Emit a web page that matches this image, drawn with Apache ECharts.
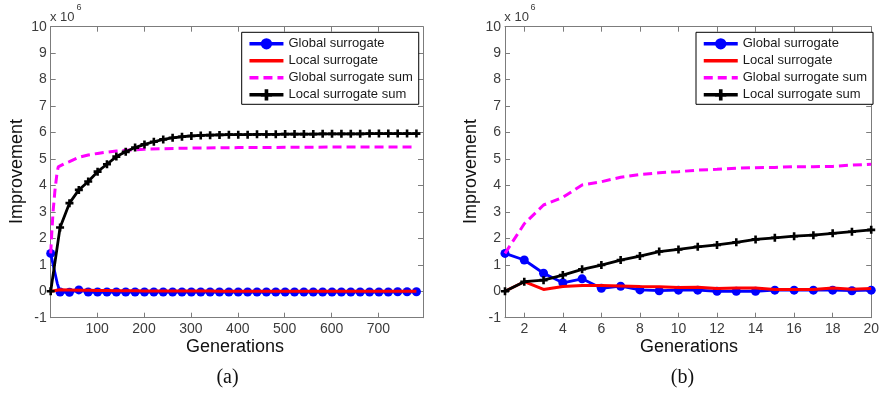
<!DOCTYPE html>
<html>
<head>
<meta charset="utf-8">
<script src="https://cdn.jsdelivr.net/npm/echarts@6/dist/echarts.min.js"></script>
<style>
  html, body { margin: 0; padding: 0; background: #fff; }
  #chart { width: 882px; height: 396px; }
</style>
</head>
<body>
<div id="chart"></div>
<script>
// ---- Panel (a): long run, values in units of 1e6 ----
const markGensA = [1, 21, 41, 61, 81, 101, 121, 141, 161, 181,
                   201, 221, 241, 261, 281, 301, 321, 341, 361, 381,
                   401, 421, 441, 461, 481, 501, 521, 541, 561, 581,
                   601, 621, 641, 661, 681, 701, 721, 741, 761, 781];

const blueGensA = [1, 5, 10, 15].concat(markGensA.slice(1));
const globalA = [1.43, 1.10, 0.70, 0.30,
                 -0.03, -0.04, 0.05, -0.03, -0.03, -0.03, -0.03, -0.03, -0.03,
                 -0.03, -0.03, -0.03, -0.03, -0.03, -0.03, -0.03, -0.03, -0.03, -0.03,
                 -0.03, -0.03, -0.03, -0.03, -0.03, -0.03, -0.03, -0.03, -0.03, -0.03,
                 -0.03, -0.03, -0.03, -0.03, -0.03, -0.03, -0.03, -0.02, -0.02, -0.02];

const localA = [0.00, 0.06, 0.05, 0.04, 0.04, 0.03, 0.03, 0.02, 0.02, 0.02,
                0.01, 0.01, 0.01, 0.01, 0.01, 0.01, 0.01, 0.01, 0.00, 0.00,
                0.00, 0.00, 0.00, 0.00, 0.00, 0.00, 0.00, 0.00, 0.00, 0.00,
                0.00, 0.00, 0.00, 0.00, 0.00, 0.00, 0.00, 0.00, 0.00, 0.00];

const sumGensA = [1, 3, 6, 10, 14, 17, 21, 31, 41, 61, 81, 101, 121, 141, 161, 181,
                  201, 241, 301, 401, 501, 601, 701, 781];
const globalSumA = [1.43, 2.10, 3.00, 3.80, 4.40, 4.70, 4.76, 4.83, 4.90, 5.06, 5.15, 5.21,
                    5.26, 5.30, 5.33, 5.35, 5.37, 5.39, 5.41, 5.43, 5.44, 5.45, 5.45, 5.45];

const localSumA = [0.00, 2.41, 3.33, 3.83, 4.15, 4.52, 4.80, 5.09, 5.27, 5.43,
                   5.55, 5.65, 5.74, 5.80, 5.84, 5.87, 5.89, 5.90, 5.91, 5.92,
                   5.92, 5.92, 5.93, 5.93, 5.93, 5.94, 5.94, 5.94, 5.94, 5.95,
                   5.95, 5.95, 5.95, 5.95, 5.96, 5.96, 5.96, 5.96, 5.96, 5.96];

const xTicksA = [100, 200, 300, 400, 500, 600, 700];

// ---- Panel (b): first 20 generations ----
const gensB = [1, 2, 3, 4, 5, 6, 7, 8, 9, 10, 11, 12, 13, 14, 15, 16, 17, 18, 19, 20];
const globalB = [1.43, 1.18, 0.68, 0.32, 0.47, 0.11, 0.19, 0.05, 0.02, 0.04,
                 0.04, 0.00, 0.00, 0.00, 0.04, 0.04, 0.04, 0.04, 0.02, 0.04];
const localB = [0.00, 0.36, 0.07, 0.18, 0.22, 0.22, 0.20, 0.18, 0.17, 0.14,
                0.15, 0.10, 0.12, 0.12, 0.07, 0.07, 0.07, 0.12, 0.08, 0.10];
const globalSumB = [1.43, 2.55, 3.26, 3.55, 4.02, 4.14, 4.31, 4.41, 4.48, 4.52,
                    4.58, 4.61, 4.65, 4.67, 4.68, 4.71, 4.71, 4.72, 4.77, 4.80];
const localSumB = [0.00, 0.36, 0.42, 0.61, 0.83, 0.99, 1.18, 1.33, 1.50, 1.58,
                   1.68, 1.75, 1.85, 1.96, 2.02, 2.08, 2.12, 2.19, 2.25, 2.32];
const xTicksB = [2, 4, 6, 8, 10, 12, 14, 16, 18, 20];

const names = ['Global surrogate', 'Local surrogate', 'Global surrogate sum', 'Local surrogate sum'];

const FONT = "'Liberation Sans', Arial, sans-serif";
const AXIS_GRAY = '#7c7c7c';
const LABEL_GRAY = '#3c3c3c';
const PLUS = 'path://M-1.3,-4 L1.3,-4 L1.3,-1.3 L4,-1.3 L4,1.3 L1.3,1.3 L1.3,4 L-1.3,4 L-1.3,1.3 L-4,1.3 L-4,-1.3 L-1.3,-1.3 Z';

// pair x values with y values; points off the marker stride get no symbol
function pairs(xs, ys, stride) {
  return xs.map((x, i) => {
    const item = { value: [x, ys[i]] };
    if (stride && (x - 1) % stride !== 0) item.symbol = 'none';
    return item;
  });
}

function xAxisPair(gridIndex, min, max, ticks) {
  const common = {
    type: 'value', gridIndex, min, max,
    axisLine: { show: true, onZero: false, lineStyle: { color: AXIS_GRAY, width: 1 } },
    splitLine: { show: false }
  };
  return [
    Object.assign({}, common, {
      position: 'bottom',
      axisTick: { show: true, inside: true, length: 5, customValues: ticks, lineStyle: { color: AXIS_GRAY } },
      axisLabel: { customValues: ticks, color: LABEL_GRAY, fontSize: 14, fontFamily: FONT, margin: 4 }
    }),
    Object.assign({}, common, {
      position: 'top',
      axisTick: { show: true, inside: true, length: 5, customValues: ticks, lineStyle: { color: AXIS_GRAY } },
      axisLabel: { show: false }
    })
  ];
}

function yAxisPair(gridIndex) {
  const common = {
    type: 'value', gridIndex, min: -1, max: 10, interval: 1,
    axisLine: { show: true, onZero: false, lineStyle: { color: AXIS_GRAY, width: 1 } },
    splitLine: { show: false },
    axisTick: { show: true, inside: true, length: 5, lineStyle: { color: AXIS_GRAY } }
  };
  return [
    Object.assign({}, common, {
      position: 'left',
      axisLabel: { color: LABEL_GRAY, fontSize: 14, fontFamily: FONT, margin: 4 }
    }),
    Object.assign({}, common, { position: 'right', axisLabel: { show: false } })
  ];
}

function seriesSet(xIdx, yIdx, d) {
  return [
    {
      name: names[0], type: 'line', xAxisIndex: xIdx, yAxisIndex: yIdx,
      data: d.global, symbol: 'circle', symbolSize: 9, showAllSymbol: true,
      lineStyle: { color: '#0000ff', width: 2.8 },
      itemStyle: { color: '#0000ff' },
      z: 2, animation: false
    },
    {
      name: names[1], type: 'line', xAxisIndex: xIdx, yAxisIndex: yIdx,
      data: d.local, symbol: 'none',
      lineStyle: { color: '#ff0000', width: 3 }, itemStyle: { color: '#ff0000' },
      z: 3, animation: false
    },
    {
      name: names[2], type: 'line', xAxisIndex: xIdx, yAxisIndex: yIdx,
      data: d.gsum, symbol: 'none',
      lineStyle: { color: '#ff00ff', width: 3, type: [9, 5] }, itemStyle: { color: '#ff00ff' },
      z: 4, animation: false
    },
    {
      name: names[3], type: 'line', xAxisIndex: xIdx, yAxisIndex: yIdx,
      data: d.lsum, symbol: PLUS, symbolSize: 8, showAllSymbol: true,
      lineStyle: { color: '#000000', width: 2.8 }, itemStyle: { color: '#000000' },
      z: 5, animation: false
    }
  ];
}

function legendAt(left, top) {
  return {
    left, top, orient: 'vertical',
    data: [
      { name: names[0] },
      { name: names[1], itemStyle: { opacity: 0 } },
      { name: names[2], itemStyle: { opacity: 0 } },
      { name: names[3] }
    ],
    itemWidth: 34, itemHeight: 14, itemGap: 4,
    padding: [5, 6, 3, 6],
    lineStyle: { width: 3.5 },
    backgroundColor: '#ffffff', borderColor: '#000000', borderWidth: 1, borderRadius: 0,
    selectedMode: false,
    textStyle: { color: '#1a1a1a', fontSize: 13, fontFamily: FONT }
  };
}

function label(x, y, text, size, extra) {
  return Object.assign({
    type: 'text', x, y, z: 100,
    style: { text, fontSize: size, fontFamily: FONT, fill: '#111', align: 'center', verticalAlign: 'middle' }
  }, extra || {});
}

function small(x, y, text, size) {
  return { type: 'text', x, y, style: { text, fontSize: size, fontFamily: FONT, fill: LABEL_GRAY, align: 'left', verticalAlign: 'middle' } };
}

function serif(x, y, text) {
  return { type: 'text', x, y, style: { text, fontSize: 20, fontFamily: "'Liberation Serif', 'DejaVu Serif', serif", fill: '#111', align: 'center', verticalAlign: 'middle' } };
}

const chart = echarts.init(document.getElementById('chart'), null, { renderer: 'canvas' });
chart.setOption({
  backgroundColor: '#ffffff',
  animation: false,
  grid: [
    { left: 50.7, right: 459, top: 26.7, bottom: 78.3 },
    { left: 505, right: 5.3, top: 26.7, bottom: 78.3 }
  ],
  xAxis: xAxisPair(0, 1, 795, xTicksA).concat(xAxisPair(1, 1, 20, xTicksB)),
  yAxis: yAxisPair(0).concat(yAxisPair(1)),
  legend: [legendAt(241.7, 32.3), legendAt(696, 32.3)],
  series: seriesSet(0, 0, {
    global: pairs(blueGensA, globalA, 20),
    local: pairs(markGensA, localA),
    gsum: pairs(sumGensA, globalSumA),
    lsum: pairs(markGensA, localSumA, 20)
  }).concat(seriesSet(2, 2, {
    global: pairs(gensB, globalB),
    local: pairs(gensB, localB),
    gsum: pairs(gensB, globalSumB),
    lsum: pairs(gensB, localSumB)
  })),
  graphic: [
    label(17, 171.5, 'Improvement', 18, { rotation: Math.PI / 2 }),
    label(471.5, 171.5, 'Improvement', 18, { rotation: Math.PI / 2 }),
    label(235, 347, 'Generations', 18),
    label(689, 347, 'Generations', 18),
    small(50, 17, 'x 10', 13),
    small(76.5, 8, '6', 9),
    small(504.3, 17, 'x 10', 13),
    small(530.5, 8, '6', 9),
    serif(227.5, 378, '(a)'),
    serif(682.5, 378, '(b)')
  ]
});
</script>
</body>
</html>
